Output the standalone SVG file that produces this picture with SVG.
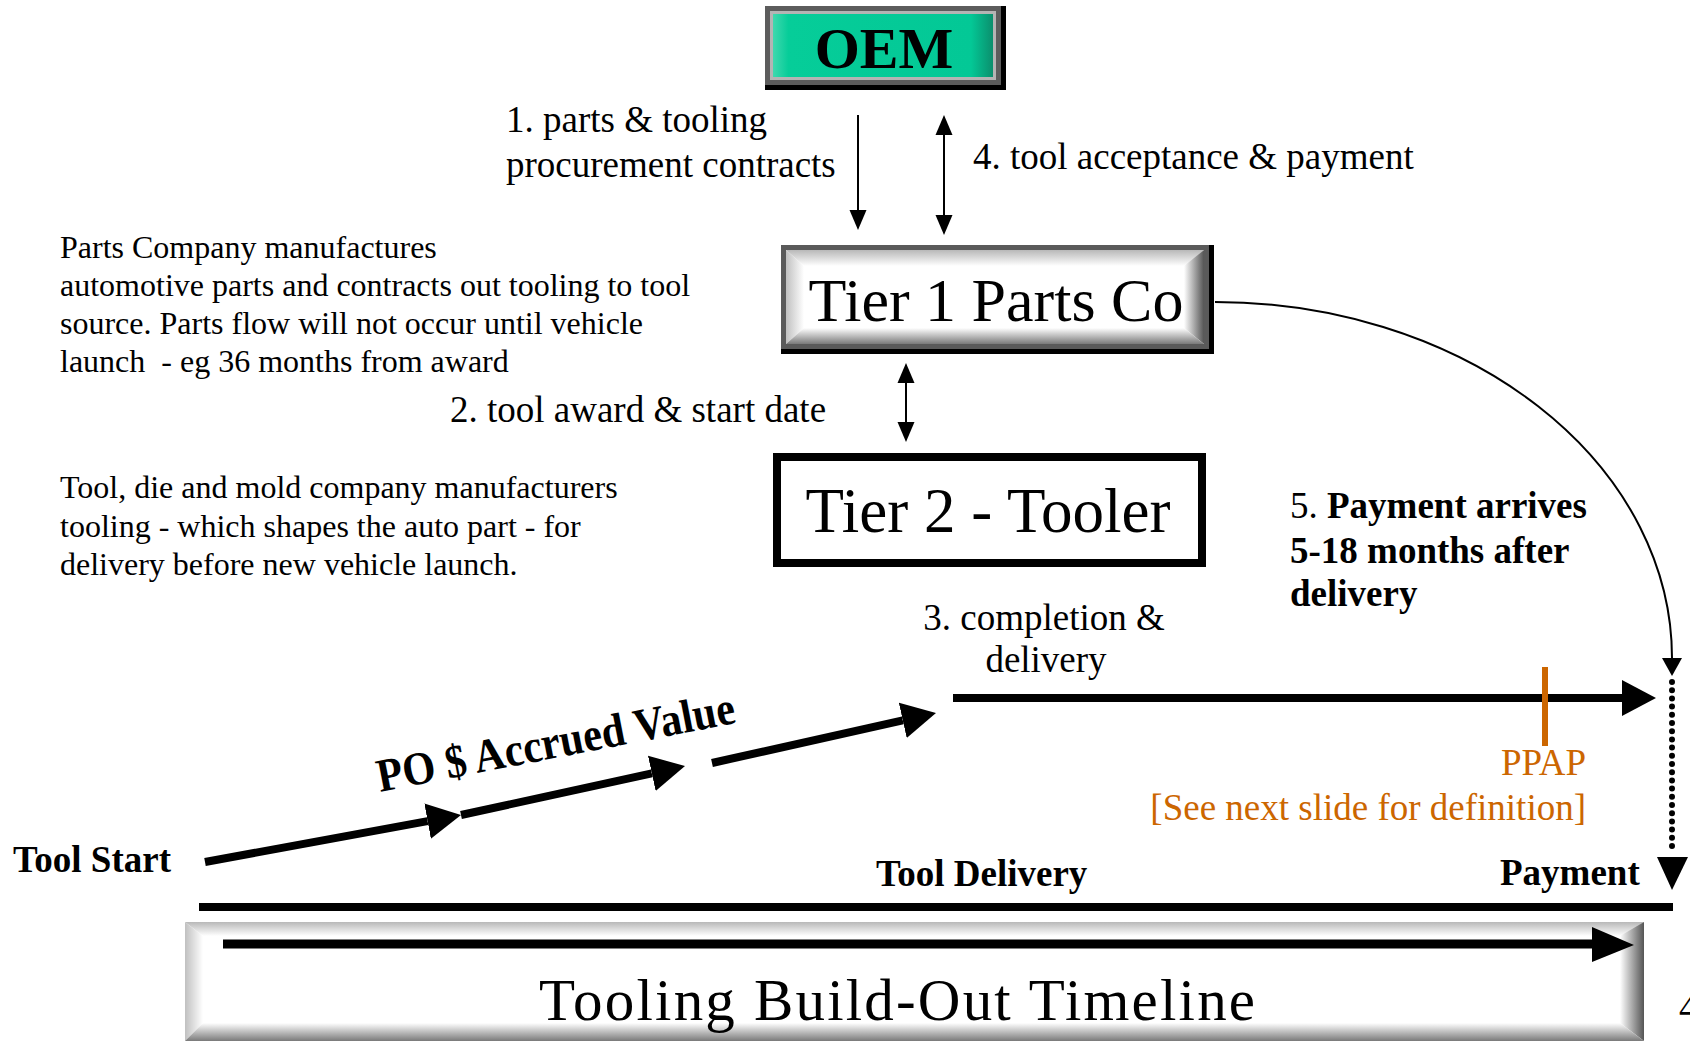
<svg xmlns="http://www.w3.org/2000/svg" width="1690" height="1041" viewBox="0 0 1690 1041">
<style>
  text { font-family: "Liberation Serif", "Times New Roman", serif; fill: #000; }
  .lbl { font-size: 37px; }
  .note { font-size: 32px; }
  .bold { font-weight: bold; }
  .orange { fill: #CC6600; }
  .thin { stroke: #000; stroke-width: 2; fill: none; }
  .thick { stroke: #000; stroke-width: 8; fill: none; }
</style>
<defs>
  <marker id="mThin" markerUnits="userSpaceOnUse" viewBox="0 -10 22 20" refX="0" refY="0" markerWidth="22" markerHeight="20" orient="auto-start-reverse">
    <path d="M0,-8.5 L20,0 L0,8.5 Z" fill="#000"/>
  </marker>
  <marker id="mThick" markerUnits="userSpaceOnUse" viewBox="0 -19 36 38" refX="0" refY="0" markerWidth="36" markerHeight="38" orient="auto">
    <path d="M0,-18 L34,0 L0,18 Z" fill="#000"/>
  </marker>
  <marker id="mCurve" markerUnits="userSpaceOnUse" viewBox="0 -11 20 22" refX="0" refY="0" markerWidth="20" markerHeight="22" orient="auto">
    <path d="M0,-10 L18,0 L0,10 Z" fill="#000"/>
  </marker>
  <linearGradient id="bevTop" x1="0" y1="0" x2="0" y2="1"><stop offset="0" stop-color="#b8b8b8"/><stop offset="1" stop-color="#ffffff"/></linearGradient>
  <linearGradient id="bevLeft" x1="0" y1="0" x2="1" y2="0"><stop offset="0" stop-color="#c0c0c0"/><stop offset="1" stop-color="#ffffff"/></linearGradient>
  <linearGradient id="bevRight" x1="0" y1="0" x2="1" y2="0"><stop offset="0" stop-color="#ffffff"/><stop offset="1" stop-color="#555555"/></linearGradient>
  <linearGradient id="bevBot" x1="0" y1="0" x2="0" y2="1"><stop offset="0" stop-color="#ffffff"/><stop offset="1" stop-color="#7a7a7a"/></linearGradient>
  <linearGradient id="teal" x1="0" y1="0" x2="1" y2="0">
    <stop offset="0" stop-color="#3fd8ae"/><stop offset="0.07" stop-color="#06cd99"/><stop offset="0.9" stop-color="#03c896"/><stop offset="1" stop-color="#0b8f6d"/>
  </linearGradient>
</defs>

<rect width="1690" height="1041" fill="#fff"/>

<!-- OEM -->
<g id="oem">
  <rect x="765" y="6" width="241" height="84" fill="#000"/>
  <rect x="765" y="6" width="236" height="79" fill="#5c5c5c"/>
  <rect x="770" y="11" width="226" height="69" fill="#b4b4b4"/>
  <rect x="773" y="14" width="220" height="63" fill="url(#teal)"/>
  <text x="884" y="68" text-anchor="middle" class="bold" font-size="58">OEM</text>
</g>

<!-- Tier 1 -->
<g id="tier1">
  <rect x="781" y="245" width="433" height="109" fill="#000"/>
  <rect x="781" y="245" width="428" height="104" fill="#5a5a5a"/>
  <rect x="786" y="250" width="418" height="94" fill="#fff"/>
  <polygon points="786,250 1204,250 1186,266 804,266" fill="url(#bevTop)"/>
  <polygon points="786,250 804,266 804,328 786,344" fill="url(#bevLeft)"/>
  <polygon points="1204,250 1204,344 1184,328 1184,266" fill="url(#bevRight)"/>
  <polygon points="786,344 1204,344 1184,328 804,328" fill="url(#bevBot)"/>
  <text x="996" y="321" text-anchor="middle" font-size="62">Tier 1 Parts Co</text>
</g>

<!-- Tier 2 -->
<g id="tier2">
  <rect x="777" y="457" width="425" height="106" fill="#fff" stroke="#000" stroke-width="8"/>
  <text x="988" y="532" text-anchor="middle" font-size="63">Tier 2 - Tooler</text>
</g>

<!-- Timeline box -->
<g id="timeline">
  <rect x="185" y="922" width="1459" height="119" fill="#fff"/>
  <polygon points="185,922 1644,922 1626,936 203,936" fill="url(#bevTop)"/>
  <polygon points="185,922 203,936 203,1023 185,1041" fill="url(#bevLeft)"/>
  <polygon points="1644,922 1644,1041 1620,1023 1620,936" fill="url(#bevRight)"/>
  <polygon points="185,1041 1644,1041 1620,1023 203,1023" fill="url(#bevBot)"/>
  <line x1="223" y1="944" x2="1594" y2="944" stroke="#000" stroke-width="9"/>
  <polygon points="1592,927 1634,945 1592,962" fill="#000"/>
  <text x="539" y="1020" font-size="59" textLength="716" lengthAdjust="spacing">Tooling Build-Out Timeline</text>
</g>

<!-- Connectors -->
<g id="connectors">
  <line class="thin" x1="858" y1="115" x2="858" y2="210" marker-end="url(#mThin)"/>
  <line class="thin" x1="944" y1="135" x2="944" y2="215" marker-start="url(#mThin)" marker-end="url(#mThin)"/>
  <line class="thin" x1="906" y1="383" x2="906" y2="422" marker-start="url(#mThin)" marker-end="url(#mThin)"/>
  <path class="thin" d="M1215,302 A457,356 0 0 1 1672,658" marker-end="url(#mCurve)"/>
  <line class="thick" x1="205" y1="862" x2="427.6" y2="821.1" marker-end="url(#mThick)"/>
  <line class="thick" x1="461" y1="815" x2="651.8" y2="773.3" marker-end="url(#mThick)"/>
  <line class="thick" x1="712" y1="763" x2="902.8" y2="720.4" marker-end="url(#mThick)"/>
  <line class="thick" x1="953" y1="698" x2="1622" y2="698" marker-end="url(#mThick)"/>
  <line x1="1672" y1="682" x2="1672" y2="847" stroke="#000" stroke-width="6" stroke-linecap="round" stroke-dasharray="0 8.2"/>
  <polygon points="1657,857 1688,857 1672,890" fill="#000"/>
  <line x1="199" y1="907" x2="1673" y2="907" stroke="#000" stroke-width="8"/>
  <line x1="1545" y1="667" x2="1545" y2="746" stroke="#CC6600" stroke-width="6"/>
</g>

<!-- Labels -->
<g id="labels">
  <text class="lbl" x="506" y="132">1. parts &amp; tooling</text>
  <text class="lbl" x="506" y="177">procurement contracts</text>
  <text class="lbl" x="973" y="169">4. tool acceptance &amp; payment</text>
  <text class="lbl" x="450" y="422">2. tool award &amp; start date</text>
  <text class="lbl" x="1044" y="630" text-anchor="middle">3. completion &amp;</text>
  <text class="lbl" x="1046" y="672" text-anchor="middle">delivery</text>
  <text class="lbl" x="1290" y="518">5. <tspan class="bold">Payment arrives</tspan></text>
  <text class="lbl bold" x="1290" y="563">5-18 months after</text>
  <text class="lbl bold" x="1290" y="606">delivery</text>
  <text class="lbl orange" x="1586" y="775" text-anchor="end">PPAP</text>
  <text class="lbl orange" x="1586" y="820" text-anchor="end">[See next slide for definition]</text>
  <text class="lbl bold" x="13" y="872">Tool Start</text>
  <text class="lbl bold" x="876" y="886">Tool Delivery</text>
  <text class="lbl bold" x="1500" y="885">Payment</text>
  <text class="bold" font-size="42" transform="translate(380,792) rotate(-11) scale(1.01,1.12)">PO $ Accrued Value</text>
  <text class="note" x="60" y="258">Parts Company manufactures</text>
  <text class="note" x="60" y="296">automotive parts and contracts out tooling to tool</text>
  <text class="note" x="60" y="334">source. Parts flow will not occur until vehicle</text>
  <text class="note" x="60" y="372" xml:space="preserve">launch  - eg 36 months from award</text>
  <text class="note" x="60" y="498">Tool, die and mold company manufacturers</text>
  <text class="note" x="60" y="537">tooling - which shapes the auto part - for</text>
  <text class="note" x="60" y="575">delivery before new vehicle launch.</text>
  <text class="lbl" x="1679" y="1020" fill="#333">4</text>
</g>
</svg>
